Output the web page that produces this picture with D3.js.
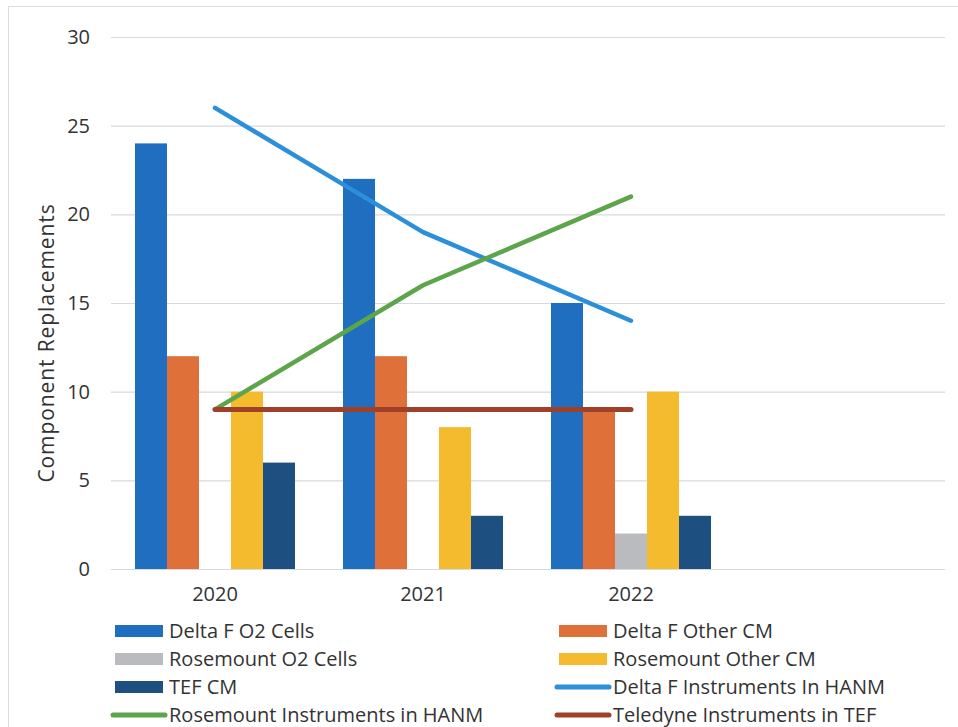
<!DOCTYPE html>
<html>
<head>
<meta charset="utf-8">
<script src="https://cdn.jsdelivr.net/npm/d3@7"></script>
<style>
  body { margin: 0; background: #fff; }
  svg text { font-family: "Open Sans", sans-serif; fill: #333; }
</style>
</head>
<body>
<svg id="chart" width="958" height="727"></svg>
<script>
const categories = ['2020', '2021', '2022', '']
const yTicks = [0, 5, 10, 15, 20, 25, 30]

const barSeries = ['Delta F O2 Cells', 'Delta F Other CM', 'Rosemount O2 Cells', 'Rosemount Other CM', 'TEF CM']
const deltaO2 = [24, 22, 15]
const deltaOther = [12, 12, 9]
const roseO2 = [0, 0, 2]
const roseOther = [10, 8, 10]
const tefCM = [6, 3, 3]

const lineSeries = ['Delta F Instruments In HANM', 'Rosemount Instruments in HANM', 'Teledyne Instruments in TEF']
const deltaHanm = [26, 19, 14]
const roseHanm = [9, 16, 21]
const teledyneTef = [9, 9, 9]

const legendOrder = [
  'Delta F O2 Cells', 'Delta F Other CM',
  'Rosemount O2 Cells', 'Rosemount Other CM',
  'TEF CM', 'Delta F Instruments In HANM',
  'Rosemount Instruments in HANM', 'Teledyne Instruments in TEF'
]

const colors = {
  'Delta F O2 Cells': '#1f6ec0',
  'Delta F Other CM': '#e0703a',
  'Rosemount O2 Cells': '#b9bbbe',
  'Rosemount Other CM': '#f5bb2e',
  'TEF CM': '#1d4f80',
  'Delta F Instruments In HANM': '#2b8fd9',
  'Rosemount Instruments in HANM': '#5da54a',
  'Teledyne Instruments in TEF': '#a04028'
}

const barValues = [deltaO2, deltaOther, roseO2, roseOther, tefCM]
const lineValues = [deltaHanm, roseHanm, teledyneTef]

const svg = d3.select('#chart')

// scanned frame edge
svg.append('rect')
  .attr('x', 8.5).attr('y', 6.5)
  .attr('width', 1000).attr('height', 740)
  .attr('fill', 'none')
  .attr('stroke', '#d9dce2')

const xScale = d3.scaleBand()
  .domain(categories)
  .range([111, 943])

const xSub = d3.scaleBand()
  .domain(barSeries)
  .range([0, xScale.bandwidth()])
  .paddingOuter(0.75)

const yScale = d3.scaleLinear()
  .domain([0, 30])
  .range([569, 37])

// gridlines
svg.append('g')
  .selectAll('line')
  .data(yTicks)
  .join('line')
  .attr('x1', 111)
  .attr('x2', 945)
  .attr('y1', d => yScale(d) + 0.5)
  .attr('y2', d => yScale(d) + 0.5)
  .attr('stroke', '#d6d9e0')
  .attr('stroke-width', 1.2)

// y axis labels
const leftAxis = d3.axisLeft(yScale).tickValues(yTicks).tickSize(0).tickPadding(0)
const yAxisG = svg.append('g')
  .attr('transform', 'translate(90, 0)')
  .call(leftAxis)
yAxisG.select('.domain').remove()
yAxisG.selectAll('text')
  .attr('font-size', 20)
  .attr('font-family', '"Open Sans", sans-serif')
  .attr('fill', '#333')

// x axis labels
const bottomAxis = d3.axisBottom(xScale).tickSize(0).tickPadding(0)
const xAxisG = svg.append('g')
  .attr('transform', 'translate(0, 590)')
  .call(bottomAxis)
xAxisG.select('.domain').remove()
xAxisG.selectAll('text')
  .attr('font-size', 20)
  .attr('font-family', '"Open Sans", sans-serif')
  .attr('fill', '#333')
  .attr('dy', '0.55em')

// axis title
svg.append('text')
  .attr('transform', 'translate(54, 343) rotate(-90)')
  .attr('text-anchor', 'middle')
  .attr('font-size', 21)
  .attr('letter-spacing', 0.9)
  .text('Component Replacements')

// bars
barSeries.forEach((s, si) => {
  svg.append('g')
    .selectAll('rect')
    .data(barValues[si])
    .join('rect')
    .attr('x', (d, i) => xScale(categories[i]) + xSub(s))
    .attr('width', xSub.bandwidth())
    .attr('y', d => yScale(d))
    .attr('height', d => yScale(0) - yScale(d))
    .attr('fill', colors[s])
})

// lines
const linegen = d3.line()
  .x((d, i) => xScale(categories[i]) + xScale.bandwidth() / 2)
  .y(d => yScale(d))

const lineWidths = [4.5, 4.5, 5]
lineSeries.forEach((s, si) => {
  svg.append('path')
    .attr('d', linegen(lineValues[si]))
    .attr('fill', 'none')
    .attr('stroke', colors[s])
    .attr('stroke-width', lineWidths[si])
    .attr('stroke-linecap', 'round')
    .attr('stroke-linejoin', 'round')
})

// legend
const legend = svg.append('g')
legendOrder.forEach((s, i) => {
  const col = i % 2
  const row = Math.floor(i / 2)
  const sx = col === 0 ? 113 : 557
  const cy = 631 + row * 28
  const g = legend.append('g')
  if (barSeries.includes(s)) {
    g.append('rect')
      .attr('x', sx + 2)
      .attr('y', cy - 6)
      .attr('width', 48)
      .attr('height', 12)
      .attr('fill', colors[s])
  } else {
    g.append('line')
      .attr('x1', sx)
      .attr('x2', sx + 52)
      .attr('y1', cy)
      .attr('y2', cy)
      .attr('stroke', colors[s])
      .attr('stroke-width', 5)
      .attr('stroke-linecap', 'round')
  }
  g.append('text')
    .attr('x', sx + 56)
    .attr('y', cy)
    .attr('dy', '0.36em')
    .attr('font-size', 20)
    .text(s)
})
</script>
</body>
</html>
